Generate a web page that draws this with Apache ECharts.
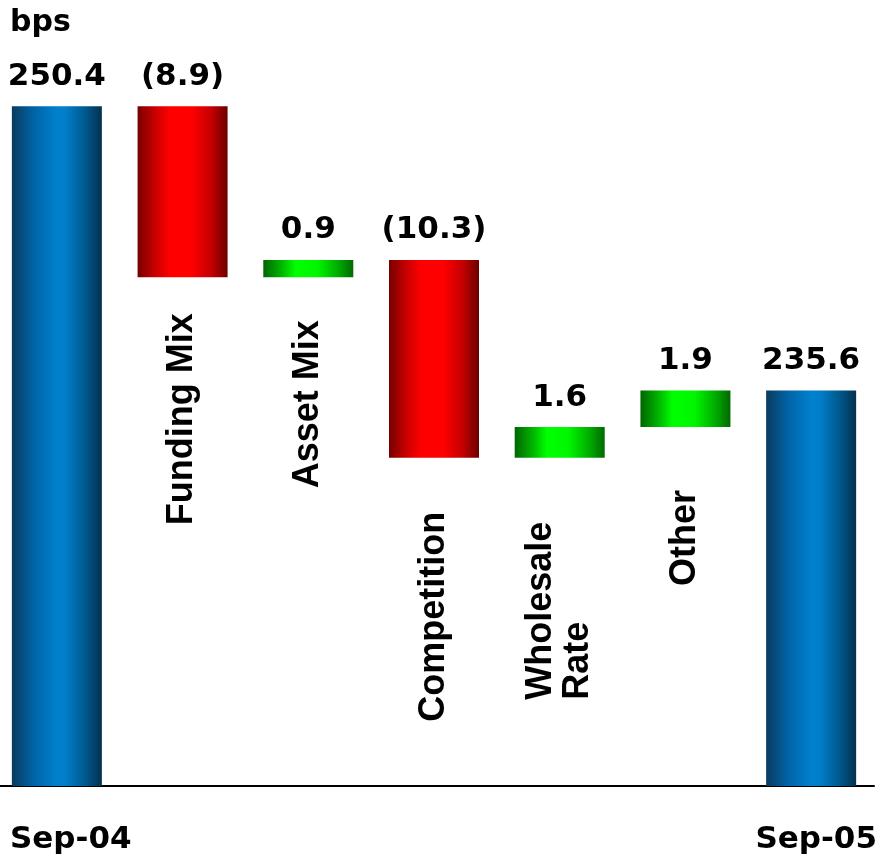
<!DOCTYPE html>
<html>
<head>
<meta charset="utf-8">
<title>Net interest margin bridge</title>
<script src="https://cdn.jsdelivr.net/npm/echarts@6/dist/echarts.min.js"></script>
<style>
  html, body { margin: 0; padding: 0; background: #ffffff; }
  #chart { width: 879px; height: 860px; }
</style>
</head>
<body>
<div id="chart"></div>
<script>
// Margin bridge, basis points
const categories = ['Sep-04', 'Funding Mix', 'Asset Mix', 'Competition', 'Wholesale\nRate', 'Other', 'Sep-05'];
const openingMargin = 250.4;
const movements = [-8.9, 0.9, -10.3, 1.6, 1.9];
const closingMargin = 235.6;
const unitLabel = 'bps';

// Build the floating bars: an invisible base plus the visible step
const baseValues = [0];
const stepValues = [openingMargin];
const signedValues = [openingMargin];
let level = openingMargin;
movements.forEach(function (m) {
  baseValues.push(m < 0 ? +(level + m).toFixed(1) : level);
  stepValues.push(Math.abs(m));
  signedValues.push(m);
  level = +(level + m).toFixed(1);
});
baseValues.push(0);
stepValues.push(closingMargin);
signedValues.push(closingMargin);

const lastIndex = categories.length - 1;
const isTotal = function (i) { return i === 0 || i === lastIndex; };

// Cylinder-like shading across each bar
function sideGradient(stops) {
  return {
    type: 'linear', x: 0, y: 0, x2: 1, y2: 0,
    colorStops: stops.map(function (s) { return { offset: s[0], color: s[1] }; })
  };
}
const totalFill = sideGradient([[0, '#0a3a5e'], [0.25, '#0065a8'], [0.5, '#0080cc'], [0.6, '#007ec8'], [0.82, '#00578c'], [1, '#04304f']]);
const downFill = sideGradient([[0, '#760000'], [0.2, '#cc0000'], [0.36, '#ff0000'], [0.6, '#ff0000'], [0.82, '#c40000'], [1, '#6a0000']]);
const upFill = sideGradient([[0, '#006600'], [0.2, '#00b400'], [0.36, '#00ff00'], [0.6, '#00f600'], [0.82, '#00b000'], [1, '#006a00']]);

function fillFor(i) {
  if (isTotal(i)) return totalFill;
  return signedValues[i] < 0 ? downFill : upFill;
}

function formatValue(v) {
  const s = Math.abs(v).toFixed(1);
  return v < 0 ? '(' + s + ')' : s;
}

// Rotated driver names sit below each floating step
const nameLabelLayout = [
  null,
  { distance: 36, align: 'right' },
  { distance: 43, align: 'right' },
  { distance: 54, align: 'right' },
  { distance: 242, align: 'left' },
  { distance: 63, align: 'right' },
  null
];

const valueFont = { fontFamily: 'DejaVu Sans', fontWeight: 'bold', fontSize: 31, color: '#000000' };

const chart = echarts.init(document.getElementById('chart'), null, { renderer: 'canvas' });
chart.setOption({
  animation: false,
  backgroundColor: '#ffffff',
  title: {
    text: unitLabel,
    left: 10,
    top: 8,
    padding: 0,
    textStyle: { fontFamily: 'DejaVu Sans', fontWeight: 'bold', fontSize: 30, color: '#000000' }
  },
  grid: { left: -6, top: 18, width: 880, height: 768, containLabel: false, outerBoundsMode: 'none' },
  xAxis: {
    type: 'category',
    data: categories,
    axisLine: { show: true, lineStyle: { color: '#000000', width: 2 } },
    axisTick: { show: false },
    axisLabel: { show: false },
    splitLine: { show: false }
  },
  yAxis: {
    type: 'value',
    min: 215,
    max: 255,
    show: false,
    splitLine: { show: false }
  },
  series: [
    {
      name: 'base',
      type: 'bar',
      stack: 'bridge',
      barWidth: 90,
      silent: true,
      itemStyle: { color: 'rgba(0,0,0,0)' },
      data: baseValues.map(function (v, i) {
        const lay = nameLabelLayout[i];
        if (!lay) return { value: v, label: { show: false } };
        return {
          value: v,
          label: {
            show: true,
            position: 'insideTop',
            distance: lay.distance,
            rotate: 90,
            align: lay.align,
            verticalAlign: 'middle',
            fontFamily: 'Liberation Sans',
            fontWeight: 'bold',
            fontSize: 36,
            lineHeight: 37,
            color: '#000000',
            formatter: categories[i]
          }
        };
      })
    },
    {
      name: 'step',
      type: 'bar',
      stack: 'bridge',
      barWidth: 90,
      silent: true,
      data: stepValues.map(function (v, i) {
        return { value: v, itemStyle: { color: fillFor(i) } };
      }),
      label: Object.assign({
        show: true,
        position: 'top',
        distance: 14,
        formatter: function (p) { return formatValue(signedValues[p.dataIndex]); }
      }, valueFont)
    }
  ],
  graphic: [
    {
      type: 'text',
      left: 10,
      top: 824,
      style: { text: categories[0], font: 'bold 31px "DejaVu Sans"', fill: '#000000' }
    },
    {
      type: 'text',
      right: 2,
      top: 824,
      style: { text: categories[lastIndex], font: 'bold 31px "DejaVu Sans"', fill: '#000000' }
    }
  ]
});
</script>
</body>
</html>
